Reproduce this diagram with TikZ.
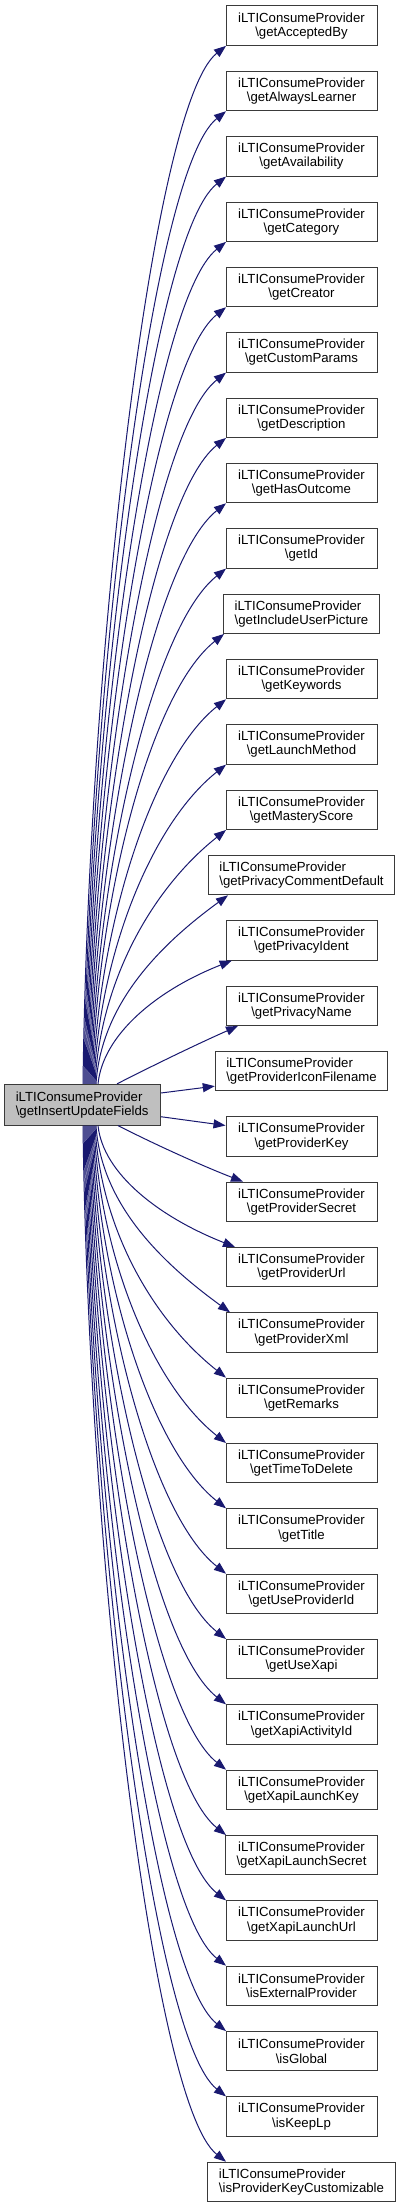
\documentclass[tikz,border=0pt]{standalone}
\usepackage{fontspec}
\setmainfont{Liberation Sans}
\usetikzlibrary{arrows.meta,calc}
\definecolor{edgecol}{HTML}{191970}
\definecolor{srcfill}{HTML}{BFBFBF}
\definecolor{boxline}{HTML}{3A3A3A}
\begin{document}
\begin{tikzpicture}[x=1pt,y=1pt,
  box/.style={draw=boxline, line width=1pt, fill=white, minimum width=151pt,
    minimum height=39.4pt, inner xsep=11pt, inner ysep=2pt,
    font=\fontsize{13.2}{14.2}\selectfont},
  srcbox/.style={box, fill=srcfill, minimum width=156.3pt, minimum height=40.7pt, align=left},
  edge/.style={draw=edgecol, line width=1pt, -{Triangle[length=12pt,width=9pt]}}
]
\useasboundingbox (0,0) rectangle (400,-2208);

% source
\node[srcbox] (src) at (82.2,-1104.7) {iLTIConsumeProvider\\\textbackslash getInsertUpdateFields};

% targets
\foreach \i/\nm/\al in {
 0/getAcceptedBy/center, 1/getAlwaysLearner/center, 2/getAvailability/center,
 3/getCategory/center, 4/getCreator/center, 5/getCustomParams/center,
 6/getDescription/center, 7/getHasOutcome/center, 8/getId/center,
 9/getIncludeUserPicture/left, 10/getKeywords/center, 11/getLaunchMethod/center,
 12/getMasteryScore/center, 13/getPrivacyCommentDefault/left, 14/getPrivacyIdent/center,
 15/getPrivacyName/center, 16/getProviderIconFilename/left, 17/getProviderKey/center,
 18/getProviderSecret/center, 19/getProviderUrl/center, 20/getProviderXml/center,
 21/getRemarks/center, 22/getTimeToDelete/center, 23/getTitle/center,
 24/getUseProviderId/center, 25/getUseXapi/center, 26/getXapiActivityId/center,
 27/getXapiLaunchKey/center, 28/getXapiLaunchSecret/center, 29/getXapiLaunchUrl/center,
 30/isExternalProvider/center, 31/isGlobal/center, 32/isKeepLp/center,
 33/isProviderKeyCustomizable/left}{
  \pgfmathsetmacro\yc{-(25.7+65.34*\i)}
  \node[box, align=\al] (t\i) at (301.5,\yc) {iLTIConsumeProvider\\\textbackslash \nm};
}

% edges to upper targets
\foreach \i/\tx/\sx/\dd in {0/226/83/60, 1/226/84/60, 2/226/85/60, 3/226/86/60,
  4/226/87/60, 5/226/88/60, 6/226/89/60, 7/226/90/60, 8/226/91/60, 9/224/92/60,
  10/226/93/60, 11/226/94/60, 12/226/95/60, 13/228/96/55, 14/231.7/98/30}{
  \pgfmathsetmacro\yt{-(45.4+65.34*\i)}
  \pgfmathsetmacro\D{1084.3-45.4-65.34*\i}
  \pgfmathsetmacro\pa{-1084.3+0.4*\D}
  \pgfmathsetmacro\pb{\yt-\dd}
  \draw[edge] (\sx,0 |- src.north) .. controls (\sx+5,\pa) and (\tx-75,\pb) .. (\tx,0 |- t\i.south);
}

% edges to lower targets
\foreach \i/\tx/\sx/\dd in {19/235/98/30, 20/230/96/55, 21/226/95/60, 22/226/94/60,
  23/226/93/60, 24/226/92/60, 25/226/91/60, 26/226/90/60, 27/226/89/60,
  28/226/88/60, 29/226/87/60, 30/226/86/60, 31/226/85/60, 32/226/84/60, 33/226/83/60}{
  \pgfmathsetmacro\yt{-(6+65.34*\i)}
  \pgfmathsetmacro\D{6+65.34*\i-1125}
  \pgfmathsetmacro\pa{-1125-0.4*\D}
  \pgfmathsetmacro\pb{\yt+\dd}
  \draw[edge] (\sx,0 |- src.south) .. controls (\sx+5,\pa) and (\tx-75,\pb) .. (\tx,0 |- t\i.north);
}

% near edges
\draw[edge] (117,0 |- src.north) .. controls (150,-1067) and (195,-1045) .. (238,0 |- t15.south);
\draw[edge] ($(src.east)+(0,11.7)$) -- ($(t16.west)+(0,-15)$);
\draw[edge] ($(src.east)+(0,-12)$) -- ($(t17.west)+(0,11)$);
\draw[edge] (118,0 |- src.south) .. controls (150,-1142) and (200,-1165) .. (243,0 |- t18.north);
\end{tikzpicture}
\end{document}
